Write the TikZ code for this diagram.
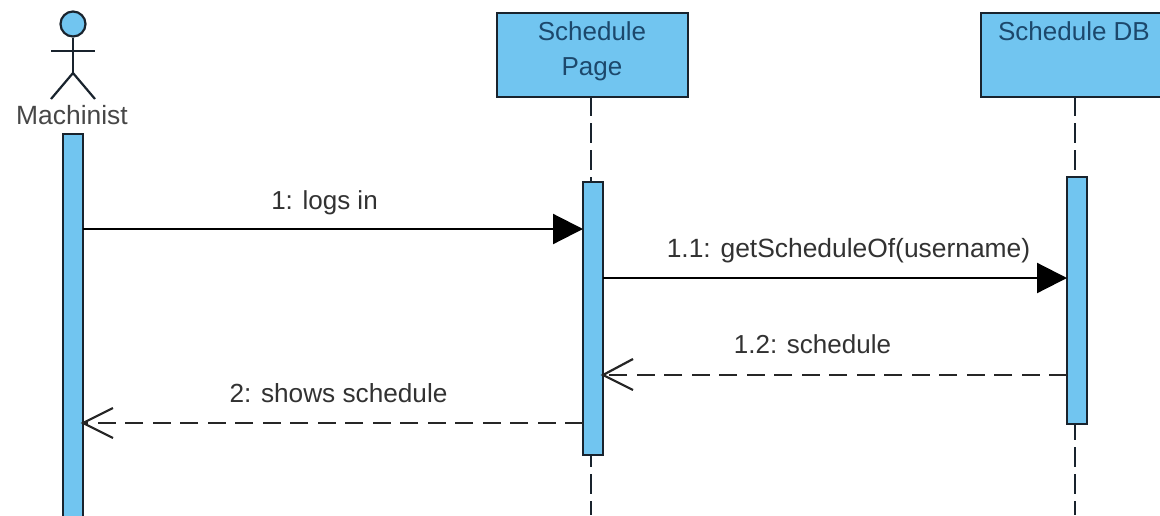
\documentclass[tikz,border=0pt]{standalone}
\usepackage{fontspec}
\setmainfont{Liberation Sans}
\usetikzlibrary{arrows.meta}
\definecolor{vpblue}{RGB}{113,197,240}
\definecolor{vpline}{RGB}{25,35,45}
\definecolor{vptext}{RGB}{28,72,108}
\definecolor{msgtext}{RGB}{50,50,50}
\tikzset{
  x=1pt,y=-1pt,
  every node/.style={font=\fontsize{26}{31}\selectfont},
  headbox/.style={draw=vpline,line width=2.2pt,fill=vpblue,inner sep=0pt,anchor=north west},
  headtext/.style={text=vptext,inner sep=0pt,anchor=base},
  bar/.style={draw=vpline,line width=2.2pt,fill=vpblue,inner sep=0pt,minimum width=20pt,anchor=north},
  life/.style={draw=vpline,line width=2.2pt,dash pattern=on 20pt off 7pt},
  stick/.style={draw=vpline,line width=2.2pt},
  msg/.style={draw=black,line width=2.2pt,-{Triangle[length=30pt,width=30pt,fill=black]}},
  reply/.style={draw=black!85,line width=2.2pt,dash pattern=on 18pt off 9.5pt},
  lbl/.style={text=msgtext,inner sep=0pt,anchor=base}
}
\begin{document}
\begin{tikzpicture}
\useasboundingbox (0,0) rectangle (1160,515);
\fill[white] (0,0) rectangle (1160,515);
% lifelines
\coordinate (pend) at (591,515);
\coordinate (dend) at (1075,515);
\coordinate (ptop) at (591,96);
\coordinate (dtop) at (1075,96);
\draw[life] (ptop) -- (pend);
\draw[life] (dtop) -- (dend);
% lifeline heads
\node[headbox,minimum width=191pt,minimum height=84pt] (pagehead) at (496,12) {};
\node[headtext] (pagetxt1) at (592,40) {Schedule};
\node[headtext] (pagetxt2) at (592,75) {Page};
\node[headbox,minimum width=190pt,minimum height=84pt] (dbhead) at (980,12) {};
\node[headtext] (dbtxt) at (1074,40) {Schedule DB};
% actor
\node[circle,draw=vpline,line width=2.2pt,fill=vpblue,minimum size=25pt,inner sep=0pt] (head) at (73,24) {};
\coordinate (hip) at (73,73);
\coordinate (armL) at (51,51);
\coordinate (armR) at (95,51);
\coordinate (legL) at (51,99);
\coordinate (legR) at (95,99);
\draw[stick] (head) -- (hip);
\draw[stick] (armL) -- (armR);
\draw[stick] (legL) -- (hip) -- (legR);
\node[text=black!72,inner sep=0pt,anchor=base] (actorname) at (72,124) {\fontsize{26.4}{31}\selectfont Machinist};
% activation bars
\node[bar,minimum height=392pt] (mbar) at (73,133) {};
\node[bar,minimum height=273pt] (pbar) at (593,181) {};
\node[bar,minimum height=247pt] (dbar) at (1077,176) {};
% messages
\coordinate (m1a) at (83,229);
\coordinate (m1b) at (583,229);
\coordinate (m2a) at (603,278);
\coordinate (m2b) at (1067,278);
\coordinate (m3a) at (1067,375);
\coordinate (m3b) at (603,375);
\coordinate (m4a) at (583,423);
\coordinate (m4b) at (83,423);
\draw[msg] (m1a) -- (m1b);
\draw[msg] (m2a) -- (m2b);
\draw[reply] (m3a) -- (m3b);
\draw[reply] (m4a) -- (m4b);
\coordinate (m3t) at (633,359);
\coordinate (m3u) at (633,390);
\coordinate (m4t) at (113,408);
\coordinate (m4u) at (113,438);
\draw[stick,draw=black!85] (m3t) -- (m3b) -- (m3u);
\draw[stick,draw=black!85] (m4t) -- (m4b) -- (m4u);
\node[lbl] (l1) at (324.5,209) {1: logs in};
\node[lbl] (l2) at (848.5,257) {\fontsize{26.4}{31}\selectfont 1.1: getScheduleOf(username)};
\node[lbl] (l3) at (812.5,353) {1.2: schedule};
\node[lbl] (l4) at (338.5,402) {\fontsize{26.2}{31}\selectfont 2: shows schedule};
\end{tikzpicture}
\end{document}
